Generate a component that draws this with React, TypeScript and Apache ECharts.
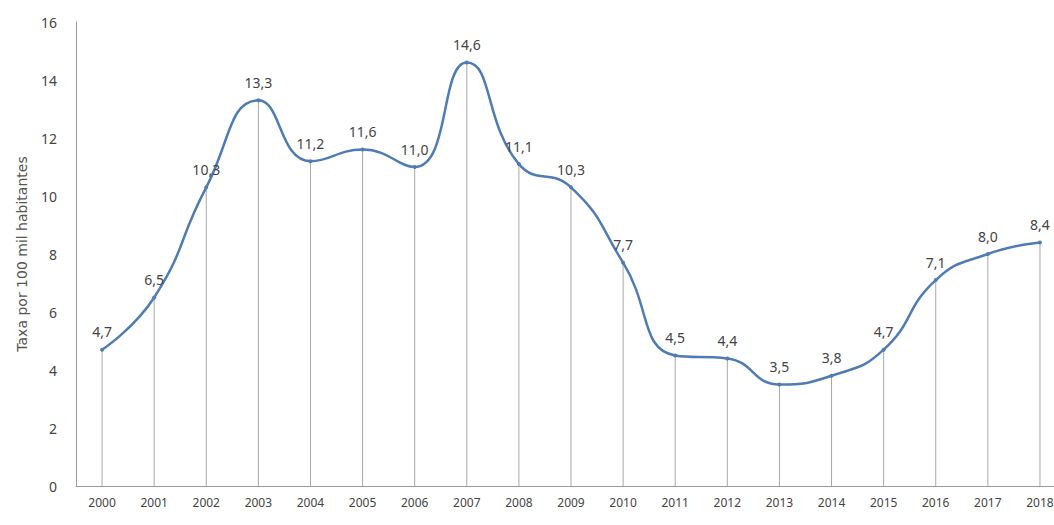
import React, { useEffect, useRef } from "react";
import * as echarts from "echarts";

const years = ["2000","2001","2002","2003","2004","2005","2006","2007","2008","2009","2010","2011","2012","2013","2014","2015","2016","2017","2018"];
const rates = [4.7, 6.5, 10.3, 13.3, 11.2, 11.6, 11.0, 14.6, 11.1, 10.3, 7.7, 4.5, 4.4, 3.5, 3.8, 4.7, 7.1, 8.0, 8.4];
const yTitle = "Taxa por 100 mil habitantes";

const fmt = (v: number) => v.toFixed(1).replace(".", ",");

export default function App() {
  const ref = useRef<HTMLDivElement>(null);
  useEffect(() => {
    if (!ref.current) return;
    const chart = echarts.init(ref.current, undefined, { renderer: "svg" });
    chart.setOption({
      animation: false,
      backgroundColor: "#ffffff",
      grid: { left: 76, right: 0, top: 22, bottom: 39 },
      xAxis: {
        type: "category",
        data: years,
        boundaryGap: true,
        axisLine: { lineStyle: { color: "#9a9a9a", width: 1 } },
        axisTick: { show: false },
        axisLabel: { color: "#444", fontSize: 12, margin: 10, fontFamily: "Noto Sans" },
        splitLine: { show: false },
      },
      yAxis: {
        type: "value",
        min: 0,
        max: 16,
        interval: 2,
        name: yTitle,
        nameLocation: "middle",
        nameGap: 47,
        nameTextStyle: { color: "#555", fontSize: 14, fontFamily: "DejaVu Sans" },
        axisLine: { show: true, lineStyle: { color: "#9a9a9a", width: 1 } },
        axisTick: { show: false },
        axisLabel: { color: "#444", fontSize: 14, margin: 19, fontFamily: "Noto Sans" },
        splitLine: { show: false },
      },
      series: [
        {
          type: "bar",
          data: rates,
          barWidth: 1,
          itemStyle: { color: "#a8a8a8" },
          silent: true,
          z: 1,
        },
        {
          type: "line",
          data: rates,
          smooth: 0.5,
          symbol: "circle",
          symbolSize: 4,
          lineStyle: { color: "#4f7db3", width: 2.5 },
          itemStyle: { color: "#4f7db3" },
          label: {
            show: true,
            position: "top",
            distance: 9,
            color: "#444",
            fontSize: 14,
            fontFamily: "Noto Sans",
            formatter: (p: any) => fmt(p.value),
          },
          z: 3,
        },
      ],
    });
    return () => chart.dispose();
  }, []);
  return (
    <div style={{ position: "absolute", left: 0, top: 0, width: 1054, height: 525, overflow: "hidden" }}>
      <div ref={ref} style={{ position: "absolute", left: 0, top: 0, width: 1066, height: 525 }} />
    </div>
  );
}
